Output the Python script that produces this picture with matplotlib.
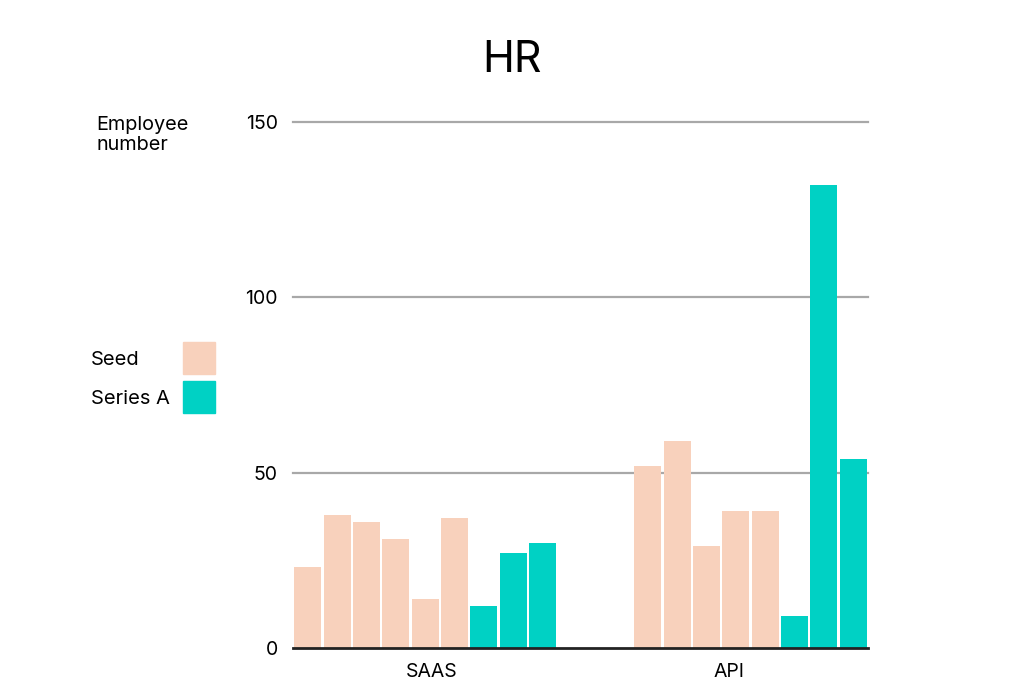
import matplotlib
matplotlib.use("Agg")
import matplotlib.pyplot as plt
from matplotlib.patches import Rectangle

plt.rcParams['font.family'] = ['Inter', 'DejaVu Sans']

categories = ["SAAS", "API"]
saas_seed = [23, 38, 36, 31, 14, 37]
saas_series_a = [12, 27, 30]
api_seed = [52, 59, 29, 39, 39]
api_series_a = [9, 132, 54]
series_names = ["Seed", "Series A"]
yticks = [0, 50, 100, 150]

seed_color = "#F8D1BC"
teal_color = "#00D1C4"

fig = plt.figure(figsize=(10.24, 7.0), dpi=100)
ax = fig.add_axes([293/1024, 1-648/700, 575/1024, (648-122)/700])

total_slots = 575/29.35
groups = [(saas_seed, saas_series_a), (api_seed, api_series_a)]
# SAAS bars left-aligned, API bars right-aligned
starts = [0.0, total_slots - (len(api_seed) + len(api_series_a))]
width = 0.92
for (seed, sa), start in zip(groups, starts):
    vals = list(seed) + list(sa)
    cols = [seed_color]*len(seed) + [teal_color]*len(sa)
    xs = [start + i + 0.5 for i in range(len(vals))]
    ax.bar(xs, vals, width=width, color=cols, zorder=3, linewidth=0)

ax.set_xlim(0, total_slots)
ax.set_ylim(0, 150)

for y in yticks[1:]:
    ax.axhline(y, color="#A8A8A8", linewidth=1.6, zorder=1, clip_on=False)
ax.axhline(0, color="#222222", linewidth=2, zorder=4, clip_on=False)

for s in ax.spines.values():
    s.set_visible(False)
ax.set_yticks(yticks)
ax.set_yticklabels([str(v) for v in yticks], fontsize=14)
ax.tick_params(axis='y', length=0, pad=11)
ax.set_xticks([4.74, 14.86])
ax.set_xticklabels(categories, fontsize=14)
ax.tick_params(axis='x', length=0, pad=11)

fig.text(0.5, 1-60/700, "HR", ha="center", va="center", fontsize=31)
fig.text(96/1024, 1-135/700, "Employee\nnumber", ha="left", va="center",
         fontsize=14.3, linespacing=1.12)

# legend
for i, (name, col) in enumerate(zip(series_names, [seed_color, teal_color])):
    ytop = 342 + i*38.7
    fig.text(91/1024, 1-(ytop+18)/700, name, ha="left", va="center", fontsize=14.5)
    fig.patches.append(Rectangle((183/1024, 1-(ytop+32)/700), 32/1024, 32/700,
                                 transform=fig.transFigure, color=col))

fig.savefig("out.png", dpi=100, facecolor="white")
